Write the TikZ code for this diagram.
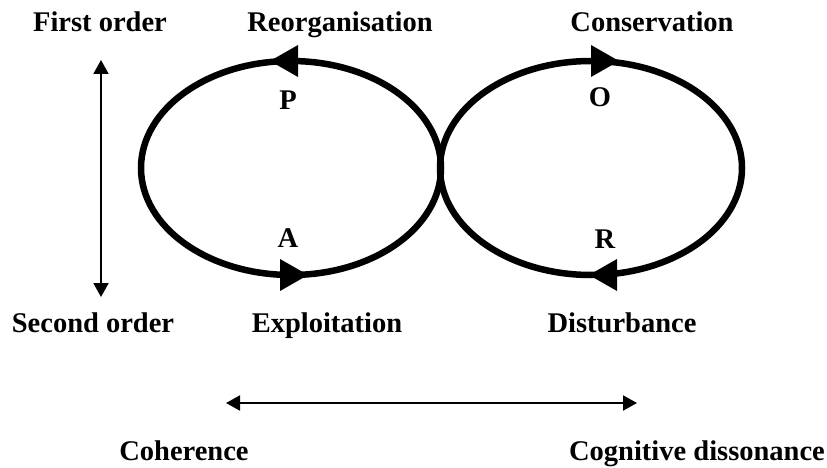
\documentclass[tikz,border=0pt]{standalone}
\usepackage{fontspec}
\setmainfont{Liberation Serif}
\usetikzlibrary{arrows.meta}
\begin{document}
\begin{tikzpicture}[x=1pt,y=-1pt,
  lbl/.style={font=\fontsize{28.5}{32}\selectfont\bfseries, inner sep=0pt, anchor=base},
  loop/.style={line width=6.5pt},
  head/.style={fill=black},
  axis/.style={line width=2pt, {Triangle[length=14pt,width=15pt]}-{Triangle[length=14pt,width=15pt]}}]
\useasboundingbox (0,0) rectangle (827,468);
% loops
\draw[loop] (291,168) ellipse [x radius=150pt, y radius=107pt];
\draw[loop] (591,168) ellipse [x radius=151pt, y radius=107pt];
% arrowheads
\fill[head] (270,61) -- (298,45) -- (298,77) -- cycle;
\fill[head] (619,61) -- (591,45) -- (591,77) -- cycle;
\fill[head] (308,275) -- (280,259) -- (280,291) -- cycle;
\fill[head] (589,275) -- (617,259) -- (617,291) -- cycle;
% axes
\coordinate (vt) at (101,60);
\coordinate (vb) at (101,297);
\draw[axis] (vt) -- (vb);
\coordinate (hl) at (226,403);
\coordinate (hr) at (637,403);
\draw[axis] (hl) -- (hr);
% labels
\node[lbl] (fo) at (100,32) {First order};
\node[lbl] (so) at (93,332) {Second order};
\node[lbl] (re) at (340,32) {Reorganisation};
\node[lbl] (co) at (652,32) {Conservation};
\node[lbl] (ex) at (327,332) {Exploitation};
\node[lbl] (di) at (622,332) {Disturbance};
\node[lbl] (ch) at (184,460) {Coherence};
\node[lbl] (cd) at (697,460) {Cognitive dissonance};
\node[lbl] (p) at (288,110) {P};
\node[lbl] (o) at (600,107) {O};
\node[lbl] (a) at (288,247) {A};
\node[lbl] (r) at (605,248) {R};
\end{tikzpicture}
\end{document}
